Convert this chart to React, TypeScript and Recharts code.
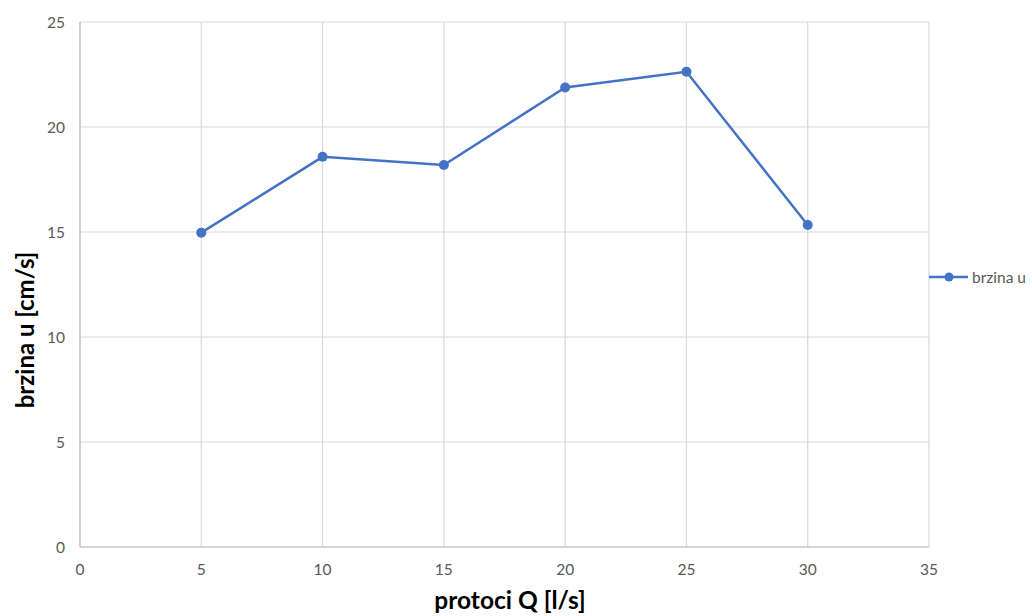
import {
  LineChart,
  Line,
  XAxis,
  YAxis,
  CartesianGrid,
  Legend,
} from "recharts";

const flowQ = [5, 10, 15, 20, 25, 30];
const speedU = [14.97, 18.58, 18.19, 21.88, 22.63, 15.33];
const xTicks = [0, 5, 10, 15, 20, 25, 30, 35];
const yTicks = [0, 5, 10, 15, 20, 25];
const seriesName = "brzina u";

const data = flowQ.map((q, i) => ({ q, u: speedU[i] }));

const BLUE = "#4472C4";
const FONT = "Lato, 'Open Sans', sans-serif";
const tickStyle = { fill: "#595959", fontSize: 15.5, fontFamily: FONT };

// axis titles sit a bit off the plot centre in the original, so they are placed by hand
function YTitle() {
  return (
    <text
      x={24}
      y={330}
      transform="rotate(-90, 24, 330)"
      textAnchor="middle"
      dominantBaseline="central"
      fontFamily={FONT}
      fontWeight="bold"
      fontSize={24}
      fill="#000"
    >
      brzina u [cm/s]
    </text>
  );
}

function XTitle() {
  return (
    <text
      x={510}
      y={609}
      textAnchor="middle"
      fontFamily={FONT}
      fontWeight="bold"
      fontSize={24.5}
      fill="#000"
    >
      protoci Q [l/s]
    </text>
  );
}

function LegendBox() {
  return (
    <svg width={103} height={22} style={{ display: "block" }}>
      <line x1={0} y1={11} x2={39} y2={11} stroke={BLUE} strokeWidth={2.5} />
      <circle cx={20} cy={11} r={4.5} fill={BLUE} />
      <text x={43} y={11} dominantBaseline="central" fontFamily={FONT} fontSize={15.5} fill="#595959">
        {seriesName}
      </text>
    </svg>
  );
}

export default function App() {
  return (
    <div style={{ position: "absolute", left: 0, top: 0, width: 1032, height: 616, background: "#fff" }}>
      <LineChart
        width={1032}
        height={616}
        data={data}
        margin={{ top: 22, right: 0, bottom: 0, left: 0 }}
      >
        <CartesianGrid stroke="#d9d9d9" strokeWidth={1.2} />
        <XAxis
          dataKey="q"
          type="number"
          domain={[0, 35]}
          ticks={xTicks}
          height={69}
          tickLine={false}
          tickSize={0}
          tickMargin={17}
          axisLine={{ stroke: "#bfbfbf", strokeWidth: 1.2 }}
          tick={tickStyle}
          label={<XTitle />}
        />
        <YAxis
          type="number"
          domain={[0, 25]}
          ticks={yTicks}
          width={80}
          tickLine={false}
          tickSize={0}
          tickMargin={15}
          axisLine={{ stroke: "#bfbfbf", strokeWidth: 1.2 }}
          tick={tickStyle}
          label={<YTitle />}
        />
        <Legend
          layout="vertical"
          align="right"
          verticalAlign="top"
          wrapperStyle={{ left: 929, top: 266, width: 103 }}
          content={() => <LegendBox />}
        />
        <Line
          type="linear"
          dataKey="u"
          name={seriesName}
          stroke={BLUE}
          strokeWidth={2.5}
          dot={{ r: 5, fill: BLUE, stroke: BLUE, strokeWidth: 0 }}
          isAnimationActive={false}
        />
      </LineChart>
    </div>
  );
}
